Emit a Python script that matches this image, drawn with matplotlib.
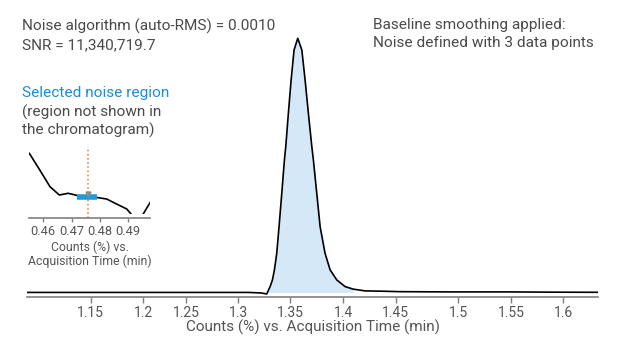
import matplotlib
matplotlib.use("Agg")
import matplotlib.pyplot as plt
import numpy as np

# main chromatogram: acquisition time (min) vs counts (%)
time_min = [1.089, 1.20, 1.30, 1.312, 1.3176, 1.3208, 1.3230, 1.3249, 1.3271, 1.3293,
            1.3319, 1.3344, 1.3357, 1.3382, 1.3408, 1.3436, 1.3471, 1.3510, 1.3541,
            1.3572, 1.3605, 1.3620, 1.3652, 1.3684, 1.3731, 1.3779, 1.3843, 1.3922,
            1.3998, 1.4112, 1.4255, 1.4446, 1.4922, 1.5493, 1.5900, 1.6327]
counts_pct = [0.0, 0.0, 0.0, -0.2, -0.6, 2.3, 4.9, 8.9, 15.4, 25.9,
              39.0, 52.1, 57.4, 70.6, 83.6, 95.4, 100.0, 95.4, 83.6,
              70.6, 57.4, 52.1, 39.0, 25.9, 15.4, 8.9, 4.9, 2.3,
              1.3, 0.6, 0.5, 0.3, 0.2, 0.2, 0.1, 0.05]
peak_start, peak_end = 1.3176, 1.40

tick_pos = [1.15, 1.2, 1.2408, 1.2903, 1.3398, 1.3906, 1.4405, 1.5, 1.55, 1.6]
tick_labels = ["1.15", "1.2", "1.25", "1.3", "1.35", "1.4", "1.45", "1.5", "1.55", "1.6"]

# inset: noise region
noise_time = [0.4551, 0.4588, 0.4624, 0.4657, 0.4688, 0.4724, 0.4759, 0.4794,
              0.4824, 0.4859, 0.4895, 0.4910, 0.4925, 0.4940, 0.4953, 0.4977]
noise_counts = [6.07, 4.4, 2.73, 1.9, 2.07, 1.83, 1.73, 1.63,
                1.5, 1.0, 0.5, 0.0, -0.6, -0.5, 0.0, 1.13]
noise_ticks = [0.46, 0.47, 0.48, 0.49]
noise_window = [0.4721, 0.4790]
noise_level = 1.72
noise_center = 0.4757

text_col = "#4a4a4a"
tick_col = "#555555"
spine_col = "#808080"
blue = "#1a8cd8"

plt.rcParams['font.family'] = ['Roboto', 'DejaVu Sans']

W, H = 624, 351
fig = plt.figure(figsize=(W / 100, H / 100), dpi=100)

def px_box(left, top, right, bottom):
    return [left / W, 1 - bottom / H, (right - left) / W, (bottom - top) / H]

# ---- main axes
ax = fig.add_axes(px_box(27, 30, 598, 297))
t = np.array(time_min)
c = np.array(counts_pct)
ax.plot(t, c, color="black", lw=1.2)
fine_t = np.linspace(peak_start, peak_end, 200)
ax.fill_between(fine_t, np.interp(fine_t, t, c), 0, color="#d5e8f8", lw=0)
ax.set_xlim(1.0893, 1.633)
ax.set_ylim(-1.8, (292.5 - 30) / 2.542)
for s in ["top", "right", "left"]:
    ax.spines[s].set_visible(False)
ax.spines["bottom"].set_color(spine_col)
ax.spines["bottom"].set_linewidth(1.2)
ax.set_yticks([])
ax.set_xticks(tick_pos)
ax.set_xticklabels(tick_labels)
ax.tick_params(axis="x", colors=spine_col, labelcolor=tick_col, length=4, width=1,
               pad=2.5, labelsize=10)
ax.set_xlabel("Counts (%) vs. Acquisition Time (min)", fontsize=11, color=tick_col, labelpad=0)
ax.patch.set_alpha(0)

# ---- inset axes
ins = fig.add_axes(px_box(29.3, 146.7, 150, 214))
ins.plot(noise_time, noise_counts, color="black", lw=1.2)
ins.set_xlim(0.4551, 0.4977)
ins.set_ylim(0, 6.73)
ins.axvline(noise_center, ymin=-0.055, ymax=1, color="#f28c3c", lw=1.2, ls=(0, (1, 1.5)),
            clip_on=False)
ins.plot(noise_window, [noise_level, noise_level], color="#1f9ad6", lw=4, solid_capstyle="butt")
ins.plot([noise_center], [noise_level + 0.3], marker="v", ms=3.5, color="#8a8a8a", lw=0)
for s in ["top", "right", "left"]:
    ins.spines[s].set_visible(False)
ins.spines["bottom"].set_position(("outward", 2.7))
ins.spines["bottom"].set_color(spine_col)
ins.spines["bottom"].set_linewidth(1.2)
ins.set_yticks([])
ins.set_xticks(noise_ticks)
ins.set_xticklabels(["0.46", "0.47", "0.48", "0.49"])
ins.tick_params(axis="x", colors=spine_col, labelcolor=tick_col, length=3, width=1,
                pad=2, labelsize=9.2)
ins.set_xlabel("Counts (%) vs.\nAcquisition Time (min)", fontsize=8.8, color=tick_col,
               labelpad=2, linespacing=1.1)
ins.patch.set_alpha(0)

# ---- annotations
def ftext(x, y, s, **kw):
    fig.text(x / W, 1 - y / H, s, va="baseline", ha="left", fontsize=11.1, **kw)

ftext(22, 30.7, "Noise algorithm (auto-RMS) = 0.0010", color=text_col)
ftext(22, 49.3, "SNR = 11,340,719.7", color=text_col)
ftext(22, 97.3, "Selected noise region", color=blue)
ftext(22, 116.5, "(region not shown in", color=text_col)
ftext(22, 135, "the chromatogram)", color=text_col)
ftext(373, 29.3, "Baseline smoothing applied:", color=text_col)
ftext(373, 46.5, "Noise defined with 3 data points", color=text_col)

fig.savefig("out.png", dpi=100)
